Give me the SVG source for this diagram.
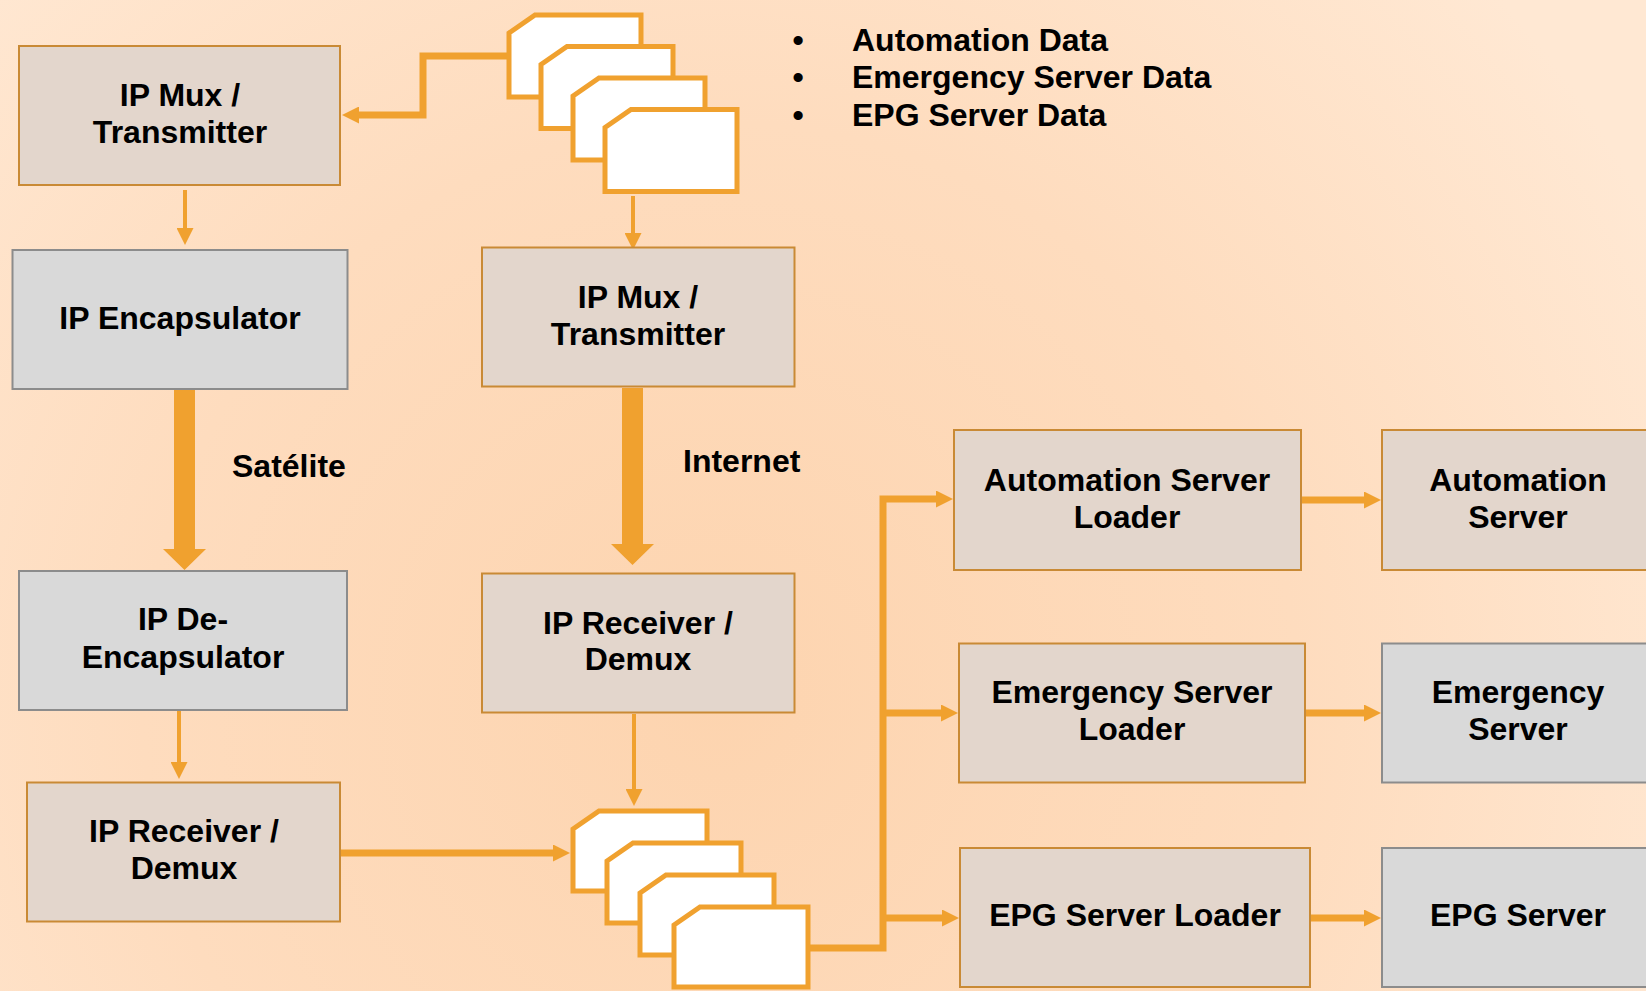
<svg xmlns="http://www.w3.org/2000/svg" width="1646" height="991" viewBox="0 0 1646 991">
<defs>
<radialGradient id="bg" gradientUnits="userSpaceOnUse" cx="720" cy="700" r="1050">
<stop offset="0" stop-color="#FDD4AF"/>
<stop offset="0.55" stop-color="#FEDCBE"/>
<stop offset="1" stop-color="#FFE8D3"/>
</radialGradient>
<marker id="ah" markerUnits="userSpaceOnUse" markerWidth="17" markerHeight="17" refX="0" refY="8.5" orient="auto" viewBox="0 0 17 17"><path d="M0,0 L17,8.5 L0,17 Z" fill="#F0A12F"/></marker>
<style>
.b{fill:#E3D6CC;stroke:#C98A35;stroke-width:2}
.g{fill:#D9D9D9;stroke:#8C8C8C;stroke-width:2}
.t{font-family:"Liberation Sans",Arial,sans-serif;font-weight:bold;font-size:32px;fill:#000;text-anchor:middle}
.l{font-family:"Liberation Sans",Arial,sans-serif;font-weight:bold;font-size:32px;fill:#000}
.c{fill:none;stroke:#F0A12F;stroke-linejoin:miter}
.w4{stroke-width:4}
.w7{stroke-width:7}
.thick{fill:#F0A12F}
.doc{fill:#fff;stroke:#F0A12F;stroke-width:5;stroke-linejoin:miter}
</style>
</defs>
<rect x="0" y="0" width="1646" height="991" fill="url(#bg)"/>

<g id="connectors">
<path class="c w7" d="M507,56 H423 V115 H359" marker-end="url(#ah)"/>
<path class="c w4" d="M185,190 V228" marker-end="url(#ah)"/>
<polygon class="thick" points="174,390 195,390 195,549 206,549 184.5,570 163,549 174,549"/>
<path class="c w4" d="M179,711 V762" marker-end="url(#ah)"/>
<path class="c w7" d="M341,853 H553" marker-end="url(#ah)"/>
<path class="c w4" d="M633,196 V233" marker-end="url(#ah)"/>
<polygon class="thick" points="622,388 643,388 643,544 654,544 632.5,565 611,544 622,544"/>
<path class="c w4" d="M634,714 V789" marker-end="url(#ah)"/>
<path class="c w7" d="M808,948 H883 V499 H936" marker-end="url(#ah)"/>
<path class="c w7" d="M883,713 H941" marker-end="url(#ah)"/>
<path class="c w7" d="M883,918 H942" marker-end="url(#ah)"/>
<path class="c w7" d="M1302,500 H1364" marker-end="url(#ah)"/>
<path class="c w7" d="M1306,713 H1364" marker-end="url(#ah)"/>
<path class="c w7" d="M1311,918 H1364" marker-end="url(#ah)"/>
</g>

<g id="docs-top">
<path class="doc" d="M509,33 L535,15 H641 V97 H509 Z"/>
<path class="doc" d="M541,64.5 L567,46.5 H673 V128.5 H541 Z"/>
<path class="doc" d="M573,96 L599,78 H705 V160 H573 Z"/>
<path class="doc" d="M605,127.5 L631,109.5 H737 V191.5 H605 Z"/>
</g>

<g id="docs-bottom">
<path class="doc" d="M573,829 L599,811 H707 V891 H573 Z"/>
<path class="doc" d="M607,861 L633,843 H741 V923 H607 Z"/>
<path class="doc" d="M640,893 L666,875 H774 V955 H640 Z"/>
<path class="doc" d="M674,925 L700,907 H808 V987 H674 Z"/>
</g>

<g id="legend">
<text class="t" x="798" y="51">•</text>
<text class="t" x="798" y="88">•</text>
<text class="t" x="798" y="126">•</text>
<text class="l" x="852" y="51">Automation Data</text>
<text class="l" x="852" y="88">Emergency Server Data</text>
<text class="l" x="852" y="126">EPG Server Data</text>
</g>

<g id="labels">
<text class="l" x="232" y="477">Satélite</text>
<text class="l" x="683" y="472">Internet</text>
</g>

<g id="mux-left">
<rect class="b" x="19" y="46" width="321" height="139"/>
<text class="t" x="180" y="106">IP Mux /</text>
<text class="t" x="180" y="143">Transmitter</text>
</g>
<g id="encapsulator">
<rect class="g" x="12.5" y="250" width="335" height="139"/>
<text class="t" x="180" y="329">IP Encapsulator</text>
</g>
<g id="de-encapsulator">
<rect class="g" x="19" y="571" width="328" height="139"/>
<text class="t" x="183" y="630">IP De-</text>
<text class="t" x="183" y="668">Encapsulator</text>
</g>
<g id="receiver-left">
<rect class="b" x="27" y="782.5" width="313" height="139"/>
<text class="t" x="184" y="842">IP Receiver /</text>
<text class="t" x="184" y="879">Demux</text>
</g>
<g id="mux-right">
<rect class="b" x="482" y="247.5" width="312.5" height="139"/>
<text class="t" x="638" y="308">IP Mux /</text>
<text class="t" x="638" y="345">Transmitter</text>
</g>
<g id="receiver-right">
<rect class="b" x="482" y="573.5" width="312.5" height="139"/>
<text class="t" x="638" y="634">IP Receiver /</text>
<text class="t" x="638" y="670">Demux</text>
</g>
<g id="automation-loader">
<rect class="b" x="954" y="430" width="347" height="140"/>
<text class="t" x="1127" y="491">Automation Server</text>
<text class="t" x="1127" y="528">Loader</text>
</g>
<g id="emergency-loader">
<rect class="b" x="959" y="643.5" width="346" height="139"/>
<text class="t" x="1132" y="703">Emergency Server</text>
<text class="t" x="1132" y="740">Loader</text>
</g>
<g id="epg-loader">
<rect class="b" x="960" y="848" width="350" height="139"/>
<text class="t" x="1135" y="926">EPG Server Loader</text>
</g>
<g id="automation-server">
<rect class="b" x="1382" y="430" width="300" height="140"/>
<text class="t" x="1518" y="491">Automation</text>
<text class="t" x="1518" y="528">Server</text>
</g>
<g id="emergency-server">
<rect class="g" x="1382" y="643.5" width="300" height="139"/>
<text class="t" x="1518" y="703">Emergency</text>
<text class="t" x="1518" y="740">Server</text>
</g>
<g id="epg-server">
<rect class="g" x="1382" y="848" width="300" height="139"/>
<text class="t" x="1518" y="926">EPG Server</text>
</g>
</svg>
